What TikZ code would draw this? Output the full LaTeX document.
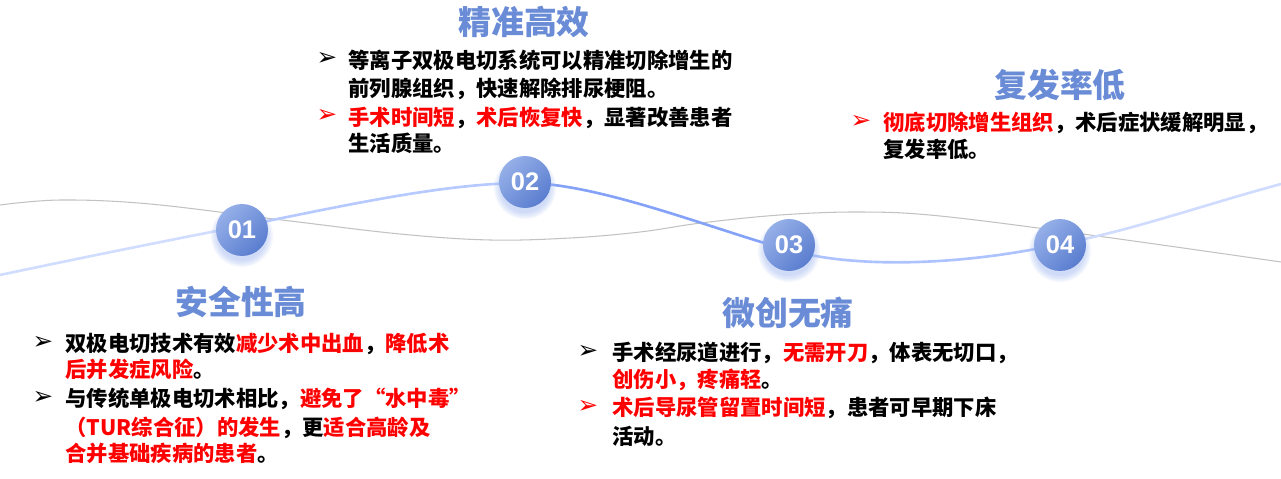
\documentclass[tikz,border=0pt]{standalone}
\usepackage{fontspec}
\newfontfamily\cjk{Noto Sans CJK SC}
\newfontfamily\numfont{Liberation Sans}
\newfontfamily\symfont{DejaVu Sans}
\usetikzlibrary{calc}

\definecolor{titleblue}{HTML}{6A8CD6}
\definecolor{hlred}{HTML}{FF0000}
\definecolor{greyline}{HTML}{C2C2C2}
\definecolor{ballhi}{HTML}{95AFE8}
\definecolor{balllo}{HTML}{5A7DCF}
\definecolor{glow}{HTML}{9DB4EE}
\definecolor{waveA}{HTML}{D0DDFF}
\definecolor{waveB}{HTML}{B6CAFF}
\definecolor{waveC}{HTML}{84A2F7}
\definecolor{waveD}{HTML}{ADC3FF}
\definecolor{waveE}{HTML}{CFDCFF}

\newcommand\hl[1]{\textcolor{hlred}{#1}}

\tikzset{
    ttl/.style={font=\cjk\bfseries\fontsize{18.7}{20}\selectfont, text=titleblue, inner sep=0, text height=16.5pt, text depth=2.2pt},
    txt/.style={anchor=west, font=\cjk\bfseries\fontsize{12.15}{14}\selectfont, inner sep=0, text height=10.7pt, text depth=1.46pt},
    bul/.style={font=\symfont\fontsize{14}{14}\selectfont, inner sep=0},
    ball/.style={circle, minimum size=1.04cm, inner sep=0, top color=ballhi, bottom color=balllo, shading angle=45, text=white, font=\numfont\bfseries\fontsize{14.5}{14.5}\selectfont},
    wave/.style={line width=1.5pt, line cap=round}
}

\begin{document}
\begin{tikzpicture}[x=0.02cm, y=-0.02cm]
            \useasboundingbox (0,0) rectangle (1281,479);

            % grey wave
            \draw[greyline, line width=0.6pt] plot[smooth, tension=0.6] coordinates {(0,205) (61,200) (150,204) (282,220) (400,234) (490,240) (570,238) (640,232) (701,223) (780,215) (860,212) (940,216) (1090,235) (1281,262)};

            % blue wave
            \coordinate (w0) at (0,275);
            \coordinate (p1) at (242,226);
            \coordinate (p2) at (525,183);
            \coordinate (p3) at (789,250);
            \coordinate (p4) at (1060,244);
            \coordinate (w5) at (1281,184);
            \draw[wave, waveA] (w0) .. controls (80,258) and (170,240) .. (p1);
            \draw[wave, waveB] (p1) .. controls (330,209) and (440,183) .. (p2);
            \draw[wave, waveC] (p2) .. controls (600,183) and (720,232) .. (p3);
            \draw[wave, waveD] (p3) .. controls (860,270) and (970,264) .. (p4);
            \draw[wave, waveE] (p4) .. controls (1130,231) and (1200,206) .. (w5);

            % glow + balls
            \foreach \x/\y/\i in {242/230/1, 525/182/2, 789/245/3, 1060/245/4} {
                \foreach \r in {0.50,0.53,...,0.62} {
                    \fill[glow, opacity=0.12] (\x,\y+6) circle (\r cm);
                }
                \node[ball] (n\i) at (\x,\y) {0\i};
            }

            % titles
            \node[ttl] (h1) at (241,302) {安全性高};
            \node[ttl] (h2) at (524,22) {精准高效};
            \node[ttl] (h3) at (788,313) {微创无痛};
            \node[ttl] (h4) at (1060,85) {复发率低};

            % bullets
            \foreach \x/\y/\c in {43/343/black, 43/398/black, 327/59/black, 327/116/hlred, 588/352/black, 588/407/hlred, 861/122/hlred} {
                \node[bul, text=\c] (b\y) at (\x,\y) {➢};
            }

            % text lines
            \foreach \x/\y/\t in {
                65/343/{双极电切技术有效\hl{减少术中出血}，\hl{降低术}},
                65/369/{\hl{后并发症风险}。},
                65/398/{与传统单极电切术相比，\hl{避免了“水中毒”}},
                65/427/{\hl{（TUR综合征）的发生}，更\hl{适合高龄及}},
                65/453/{\hl{合并基础疾病的患者}。},
                348/60/{等离子双极电切系统可以精准切除增生的},
                348/88/{前列腺组织，快速解除排尿梗阻。},
                348/117/{\hl{手术时间短}，\hl{术后恢复快}，显著改善患者},
                348/143/{生活质量。},
                612/352/{手术经尿道进行，\hl{无需开刀}，体表无切口，},
                612/379/{\hl{创伤小，疼痛轻}。},
                612/407/{\hl{术后导尿管留置时间短}，患者可早期下床},
                612/436/{活动。},
                883/122/{\hl{彻底切除增生组织}，术后症状缓解明显，},
                883/149/{复发率低。}} {
                \node[txt] (t\y) at (\x,\y) {\t};
            }
\end{tikzpicture}
\end{document}
